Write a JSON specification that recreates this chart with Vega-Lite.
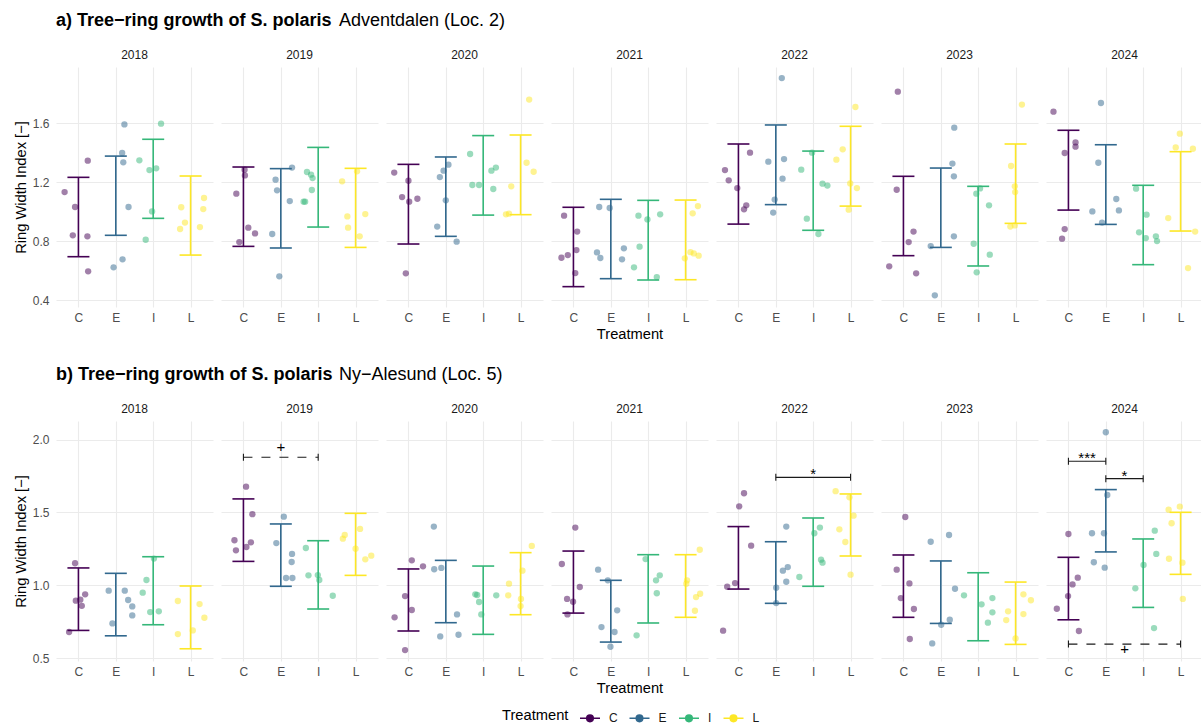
{
"$schema":"https://vega.github.io/schema/vega-lite/v6.json",
"background":"white",
"padding":{"left":13,"top":12,"right":0,"bottom":2},
"config":{
 "font":"Liberation Sans",
 "view":{"stroke":null},
 "axis":{"domain":false,"ticks":false,"grid":true,"gridColor":"#EBEBEB","labelColor":"#4D4D4D","labelFontSize":12,"titleFontSize":14.7,"titleFontWeight":"normal","titleColor":"#000000"},
 "header":{"labelFontSize":12,"labelColor":"#1A1A1A","titleFontSize":14.7,"titleFontWeight":"normal","titleColor":"#000000"},
 "title":{"fontSize":18,"fontWeight":"bold","anchor":"start","color":"#000000"},
 "legend":{"direction":"horizontal","titleOrient":"left","titleFontSize":14.7,"titleFontWeight":"normal","titleColor":"#000000","labelFontSize":12,"labelColor":"#1A1A1A","symbolType":"M-1,0H1M0.33,0A0.33,0.33,0,1,1,-0.33,0A0.33,0.33,0,1,1,0.33,0Z","symbolSize":400,"symbolStrokeWidth":1.5,"columnPadding":8.5,"titlePadding":10,"labelOffset":8}
},
"datasets":{
"a":[
{"year":2018,"kind":"bar","trt":"C","x":1,"lo":0.696,"hi":1.234},
{"year":2018,"kind":"bar","trt":"E","x":2,"lo":0.841,"hi":1.378},
{"year":2018,"kind":"bar","trt":"I","x":3,"lo":0.956,"hi":1.492},
{"year":2018,"kind":"bar","trt":"L","x":4,"lo":0.707,"hi":1.243},
{"year":2019,"kind":"bar","trt":"C","x":1,"lo":0.766,"hi":1.304},
{"year":2019,"kind":"bar","trt":"E","x":2,"lo":0.755,"hi":1.293},
{"year":2019,"kind":"bar","trt":"I","x":3,"lo":0.897,"hi":1.437},
{"year":2019,"kind":"bar","trt":"L","x":4,"lo":0.759,"hi":1.295},
{"year":2020,"kind":"bar","trt":"C","x":1,"lo":0.782,"hi":1.322},
{"year":2020,"kind":"bar","trt":"E","x":2,"lo":0.834,"hi":1.372},
{"year":2020,"kind":"bar","trt":"I","x":3,"lo":0.978,"hi":1.517},
{"year":2020,"kind":"bar","trt":"L","x":4,"lo":0.981,"hi":1.521},
{"year":2021,"kind":"bar","trt":"C","x":1,"lo":0.493,"hi":1.031},
{"year":2021,"kind":"bar","trt":"E","x":2,"lo":0.547,"hi":1.085},
{"year":2021,"kind":"bar","trt":"I","x":3,"lo":0.538,"hi":1.078},
{"year":2021,"kind":"bar","trt":"L","x":4,"lo":0.54,"hi":1.08},
{"year":2022,"kind":"bar","trt":"C","x":1,"lo":0.917,"hi":1.46},
{"year":2022,"kind":"bar","trt":"E","x":2,"lo":1.049,"hi":1.589},
{"year":2022,"kind":"bar","trt":"I","x":3,"lo":0.875,"hi":1.412},
{"year":2022,"kind":"bar","trt":"L","x":4,"lo":1.039,"hi":1.58},
{"year":2023,"kind":"bar","trt":"C","x":1,"lo":0.703,"hi":1.241},
{"year":2023,"kind":"bar","trt":"E","x":2,"lo":0.759,"hi":1.297},
{"year":2023,"kind":"bar","trt":"I","x":3,"lo":0.633,"hi":1.173},
{"year":2023,"kind":"bar","trt":"L","x":4,"lo":0.922,"hi":1.46},
{"year":2024,"kind":"bar","trt":"C","x":1,"lo":1.012,"hi":1.553},
{"year":2024,"kind":"bar","trt":"E","x":2,"lo":0.915,"hi":1.455},
{"year":2024,"kind":"bar","trt":"I","x":3,"lo":0.642,"hi":1.18},
{"year":2024,"kind":"bar","trt":"L","x":4,"lo":0.87,"hi":1.408},
{"year":2018,"kind":"pt","trt":"C","x":0.63,"v":1.134},
{"year":2018,"kind":"pt","trt":"C","x":0.91,"v":1.033},
{"year":2018,"kind":"pt","trt":"C","x":0.85,"v":0.841},
{"year":2018,"kind":"pt","trt":"C","x":1.24,"v":0.834},
{"year":2018,"kind":"pt","trt":"C","x":1.25,"v":1.347},
{"year":2018,"kind":"pt","trt":"C","x":1.26,"v":0.597},
{"year":2018,"kind":"pt","trt":"E","x":2.23,"v":1.593},
{"year":2018,"kind":"pt","trt":"E","x":2.17,"v":1.399},
{"year":2018,"kind":"pt","trt":"E","x":2.2,"v":1.336},
{"year":2018,"kind":"pt","trt":"E","x":2.34,"v":1.033},
{"year":2018,"kind":"pt","trt":"E","x":1.94,"v":0.624},
{"year":2018,"kind":"pt","trt":"E","x":2.18,"v":0.678},
{"year":2018,"kind":"pt","trt":"I","x":2.63,"v":1.349},
{"year":2018,"kind":"pt","trt":"I","x":3.21,"v":1.598},
{"year":2018,"kind":"pt","trt":"I","x":2.9,"v":1.283},
{"year":2018,"kind":"pt","trt":"I","x":3.08,"v":1.295},
{"year":2018,"kind":"pt","trt":"I","x":2.97,"v":1.003},
{"year":2018,"kind":"pt","trt":"I","x":2.8,"v":0.811},
{"year":2018,"kind":"pt","trt":"L","x":3.75,"v":1.031},
{"year":2018,"kind":"pt","trt":"L","x":4.36,"v":1.094},
{"year":2018,"kind":"pt","trt":"L","x":3.85,"v":0.927},
{"year":2018,"kind":"pt","trt":"L","x":4.34,"v":1.019},
{"year":2018,"kind":"pt","trt":"L","x":4.25,"v":0.897},
{"year":2018,"kind":"pt","trt":"L","x":3.72,"v":0.884},
{"year":2019,"kind":"pt","trt":"C","x":0.81,"v":1.123},
{"year":2019,"kind":"pt","trt":"C","x":1.04,"v":1.247},
{"year":2019,"kind":"pt","trt":"C","x":1.03,"v":1.286},
{"year":2019,"kind":"pt","trt":"C","x":1.13,"v":0.893},
{"year":2019,"kind":"pt","trt":"C","x":0.89,"v":0.795},
{"year":2019,"kind":"pt","trt":"C","x":1.31,"v":0.854},
{"year":2019,"kind":"pt","trt":"E","x":2.3,"v":1.3},
{"year":2019,"kind":"pt","trt":"E","x":1.86,"v":1.218},
{"year":2019,"kind":"pt","trt":"E","x":1.9,"v":1.146},
{"year":2019,"kind":"pt","trt":"E","x":2.24,"v":1.073},
{"year":2019,"kind":"pt","trt":"E","x":1.77,"v":0.85},
{"year":2019,"kind":"pt","trt":"E","x":1.96,"v":0.563},
{"year":2019,"kind":"pt","trt":"I","x":2.7,"v":1.27},
{"year":2019,"kind":"pt","trt":"I","x":2.81,"v":1.252},
{"year":2019,"kind":"pt","trt":"I","x":2.85,"v":1.229},
{"year":2019,"kind":"pt","trt":"I","x":2.83,"v":1.148},
{"year":2019,"kind":"pt","trt":"I","x":2.61,"v":1.069},
{"year":2019,"kind":"pt","trt":"I","x":2.65,"v":1.069},
{"year":2019,"kind":"pt","trt":"L","x":3.64,"v":1.207},
{"year":2019,"kind":"pt","trt":"L","x":4.04,"v":1.275},
{"year":2019,"kind":"pt","trt":"L","x":4.26,"v":0.985},
{"year":2019,"kind":"pt","trt":"L","x":3.78,"v":0.969},
{"year":2019,"kind":"pt","trt":"L","x":3.8,"v":0.893},
{"year":2019,"kind":"pt","trt":"L","x":4.11,"v":0.834},
{"year":2020,"kind":"pt","trt":"C","x":0.62,"v":1.266},
{"year":2020,"kind":"pt","trt":"C","x":1.0,"v":1.211},
{"year":2020,"kind":"pt","trt":"C","x":0.83,"v":1.1},
{"year":2020,"kind":"pt","trt":"C","x":1.02,"v":1.069},
{"year":2020,"kind":"pt","trt":"C","x":1.24,"v":1.089},
{"year":2020,"kind":"pt","trt":"C","x":0.93,"v":0.583},
{"year":2020,"kind":"pt","trt":"E","x":1.94,"v":1.279},
{"year":2020,"kind":"pt","trt":"E","x":2.07,"v":1.32},
{"year":2020,"kind":"pt","trt":"E","x":1.84,"v":1.236},
{"year":2020,"kind":"pt","trt":"E","x":2.0,"v":1.078},
{"year":2020,"kind":"pt","trt":"E","x":1.77,"v":0.9},
{"year":2020,"kind":"pt","trt":"E","x":2.29,"v":0.798},
{"year":2020,"kind":"pt","trt":"I","x":2.65,"v":1.392},
{"year":2020,"kind":"pt","trt":"I","x":2.71,"v":1.182},
{"year":2020,"kind":"pt","trt":"I","x":2.89,"v":1.182},
{"year":2020,"kind":"pt","trt":"I","x":3.22,"v":1.279},
{"year":2020,"kind":"pt","trt":"I","x":3.34,"v":1.3},
{"year":2020,"kind":"pt","trt":"I","x":3.27,"v":1.155},
{"year":2020,"kind":"pt","trt":"L","x":4.23,"v":1.761},
{"year":2020,"kind":"pt","trt":"L","x":4.16,"v":1.333},
{"year":2020,"kind":"pt","trt":"L","x":4.35,"v":1.272},
{"year":2020,"kind":"pt","trt":"L","x":3.75,"v":1.173},
{"year":2020,"kind":"pt","trt":"L","x":3.61,"v":0.983},
{"year":2020,"kind":"pt","trt":"L","x":3.69,"v":0.988},
{"year":2021,"kind":"pt","trt":"C","x":0.75,"v":0.974},
{"year":2021,"kind":"pt","trt":"C","x":1.1,"v":0.866},
{"year":2021,"kind":"pt","trt":"C","x":1.08,"v":0.741},
{"year":2021,"kind":"pt","trt":"C","x":0.85,"v":0.707},
{"year":2021,"kind":"pt","trt":"C","x":0.68,"v":0.689},
{"year":2021,"kind":"pt","trt":"C","x":1.05,"v":0.585},
{"year":2021,"kind":"pt","trt":"E","x":1.69,"v":1.033},
{"year":2021,"kind":"pt","trt":"E","x":1.97,"v":1.026},
{"year":2021,"kind":"pt","trt":"E","x":2.35,"v":0.753},
{"year":2021,"kind":"pt","trt":"E","x":1.63,"v":0.725},
{"year":2021,"kind":"pt","trt":"E","x":1.72,"v":0.687},
{"year":2021,"kind":"pt","trt":"E","x":2.3,"v":0.678},
{"year":2021,"kind":"pt","trt":"I","x":2.74,"v":0.974},
{"year":2021,"kind":"pt","trt":"I","x":2.98,"v":0.949},
{"year":2021,"kind":"pt","trt":"I","x":3.32,"v":0.983},
{"year":2021,"kind":"pt","trt":"I","x":2.77,"v":0.764},
{"year":2021,"kind":"pt","trt":"I","x":2.62,"v":0.624},
{"year":2021,"kind":"pt","trt":"I","x":3.23,"v":0.558},
{"year":2021,"kind":"pt","trt":"L","x":4.33,"v":1.039},
{"year":2021,"kind":"pt","trt":"L","x":4.19,"v":0.99},
{"year":2021,"kind":"pt","trt":"L","x":3.98,"v":0.685},
{"year":2021,"kind":"pt","trt":"L","x":4.13,"v":0.727},
{"year":2021,"kind":"pt","trt":"L","x":4.22,"v":0.718},
{"year":2021,"kind":"pt","trt":"L","x":4.35,"v":0.703},
{"year":2022,"kind":"pt","trt":"C","x":1.31,"v":1.401},
{"year":2022,"kind":"pt","trt":"C","x":0.64,"v":1.283},
{"year":2022,"kind":"pt","trt":"C","x":0.74,"v":1.214},
{"year":2022,"kind":"pt","trt":"C","x":0.97,"v":1.161},
{"year":2022,"kind":"pt","trt":"C","x":1.21,"v":1.044},
{"year":2022,"kind":"pt","trt":"C","x":1.15,"v":1.017},
{"year":2022,"kind":"pt","trt":"E","x":2.16,"v":1.907},
{"year":2022,"kind":"pt","trt":"E","x":1.8,"v":1.34},
{"year":2022,"kind":"pt","trt":"E","x":2.22,"v":1.358},
{"year":2022,"kind":"pt","trt":"E","x":2.18,"v":1.225},
{"year":2022,"kind":"pt","trt":"E","x":1.97,"v":1.083},
{"year":2022,"kind":"pt","trt":"E","x":1.93,"v":0.995},
{"year":2022,"kind":"pt","trt":"I","x":2.97,"v":1.401},
{"year":2022,"kind":"pt","trt":"I","x":2.68,"v":1.286},
{"year":2022,"kind":"pt","trt":"I","x":3.25,"v":1.191},
{"year":2022,"kind":"pt","trt":"I","x":3.38,"v":1.178},
{"year":2022,"kind":"pt","trt":"I","x":2.83,"v":0.954},
{"year":2022,"kind":"pt","trt":"I","x":3.14,"v":0.85},
{"year":2022,"kind":"pt","trt":"L","x":4.13,"v":1.711},
{"year":2022,"kind":"pt","trt":"L","x":3.79,"v":1.424},
{"year":2022,"kind":"pt","trt":"L","x":3.62,"v":1.354},
{"year":2022,"kind":"pt","trt":"L","x":3.99,"v":1.193},
{"year":2022,"kind":"pt","trt":"L","x":4.17,"v":1.161},
{"year":2022,"kind":"pt","trt":"L","x":3.95,"v":1.015},
{"year":2023,"kind":"pt","trt":"C","x":0.85,"v":1.815},
{"year":2023,"kind":"pt","trt":"C","x":0.82,"v":1.15},
{"year":2023,"kind":"pt","trt":"C","x":1.27,"v":0.866},
{"year":2023,"kind":"pt","trt":"C","x":1.14,"v":0.795},
{"year":2023,"kind":"pt","trt":"C","x":0.62,"v":0.631},
{"year":2023,"kind":"pt","trt":"C","x":1.34,"v":0.583},
{"year":2023,"kind":"pt","trt":"E","x":2.36,"v":1.571},
{"year":2023,"kind":"pt","trt":"E","x":2.31,"v":1.327},
{"year":2023,"kind":"pt","trt":"E","x":2.35,"v":1.241},
{"year":2023,"kind":"pt","trt":"E","x":2.35,"v":0.834},
{"year":2023,"kind":"pt","trt":"E","x":1.73,"v":0.768},
{"year":2023,"kind":"pt","trt":"E","x":1.84,"v":0.434},
{"year":2023,"kind":"pt","trt":"I","x":2.95,"v":1.123},
{"year":2023,"kind":"pt","trt":"I","x":3.05,"v":1.159},
{"year":2023,"kind":"pt","trt":"I","x":3.29,"v":1.044},
{"year":2023,"kind":"pt","trt":"I","x":2.88,"v":0.784},
{"year":2023,"kind":"pt","trt":"I","x":3.31,"v":0.71},
{"year":2023,"kind":"pt","trt":"I","x":2.96,"v":0.59},
{"year":2023,"kind":"pt","trt":"L","x":4.17,"v":1.727},
{"year":2023,"kind":"pt","trt":"L","x":3.88,"v":1.311},
{"year":2023,"kind":"pt","trt":"L","x":3.98,"v":1.173},
{"year":2023,"kind":"pt","trt":"L","x":3.99,"v":1.134},
{"year":2023,"kind":"pt","trt":"L","x":3.86,"v":0.9},
{"year":2023,"kind":"pt","trt":"L","x":3.98,"v":0.908},
{"year":2024,"kind":"pt","trt":"C","x":0.6,"v":1.679},
{"year":2024,"kind":"pt","trt":"C","x":0.9,"v":1.399},
{"year":2024,"kind":"pt","trt":"C","x":1.19,"v":1.471},
{"year":2024,"kind":"pt","trt":"C","x":1.19,"v":1.442},
{"year":2024,"kind":"pt","trt":"C","x":0.9,"v":0.883},
{"year":2024,"kind":"pt","trt":"C","x":0.83,"v":0.818},
{"year":2024,"kind":"pt","trt":"E","x":1.87,"v":1.738},
{"year":2024,"kind":"pt","trt":"E","x":1.8,"v":1.333},
{"year":2024,"kind":"pt","trt":"E","x":2.28,"v":1.087},
{"year":2024,"kind":"pt","trt":"E","x":2.35,"v":1.01},
{"year":2024,"kind":"pt","trt":"E","x":1.64,"v":1.003},
{"year":2024,"kind":"pt","trt":"E","x":1.9,"v":0.927},
{"year":2024,"kind":"pt","trt":"I","x":2.81,"v":1.157},
{"year":2024,"kind":"pt","trt":"I","x":3.09,"v":0.981},
{"year":2024,"kind":"pt","trt":"I","x":2.89,"v":0.861},
{"year":2024,"kind":"pt","trt":"I","x":3.07,"v":0.822},
{"year":2024,"kind":"pt","trt":"I","x":3.34,"v":0.834},
{"year":2024,"kind":"pt","trt":"I","x":3.37,"v":0.802},
{"year":2024,"kind":"pt","trt":"L","x":3.98,"v":1.53},
{"year":2024,"kind":"pt","trt":"L","x":3.87,"v":1.437},
{"year":2024,"kind":"pt","trt":"L","x":4.33,"v":1.428},
{"year":2024,"kind":"pt","trt":"L","x":3.67,"v":0.958},
{"year":2024,"kind":"pt","trt":"L","x":4.39,"v":0.866},
{"year":2024,"kind":"pt","trt":"L","x":4.2,"v":0.619}
],
"b":[
{"year":2018,"kind":"bar","trt":"C","x":1,"lo":0.69,"hi":1.119},
{"year":2018,"kind":"bar","trt":"E","x":2,"lo":0.653,"hi":1.082},
{"year":2018,"kind":"bar","trt":"I","x":3,"lo":0.729,"hi":1.196},
{"year":2018,"kind":"bar","trt":"L","x":4,"lo":0.564,"hi":0.995},
{"year":2019,"kind":"bar","trt":"C","x":1,"lo":1.164,"hi":1.593},
{"year":2019,"kind":"bar","trt":"E","x":2,"lo":0.993,"hi":1.421},
{"year":2019,"kind":"bar","trt":"I","x":3,"lo":0.837,"hi":1.306},
{"year":2019,"kind":"bar","trt":"L","x":4,"lo":1.068,"hi":1.494},
{"year":2020,"kind":"bar","trt":"C","x":1,"lo":0.686,"hi":1.112},
{"year":2020,"kind":"bar","trt":"E","x":2,"lo":0.743,"hi":1.171},
{"year":2020,"kind":"bar","trt":"I","x":3,"lo":0.663,"hi":1.132},
{"year":2020,"kind":"bar","trt":"L","x":4,"lo":0.798,"hi":1.224},
{"year":2021,"kind":"bar","trt":"C","x":1,"lo":0.809,"hi":1.235},
{"year":2021,"kind":"bar","trt":"E","x":2,"lo":0.61,"hi":1.034},
{"year":2021,"kind":"bar","trt":"I","x":3,"lo":0.741,"hi":1.21},
{"year":2021,"kind":"bar","trt":"L","x":4,"lo":0.78,"hi":1.21},
{"year":2022,"kind":"bar","trt":"C","x":1,"lo":0.974,"hi":1.403},
{"year":2022,"kind":"bar","trt":"E","x":2,"lo":0.876,"hi":1.299},
{"year":2022,"kind":"bar","trt":"I","x":3,"lo":0.993,"hi":1.462},
{"year":2022,"kind":"bar","trt":"L","x":4,"lo":1.201,"hi":1.627},
{"year":2023,"kind":"bar","trt":"C","x":1,"lo":0.78,"hi":1.208},
{"year":2023,"kind":"bar","trt":"E","x":2,"lo":0.738,"hi":1.167},
{"year":2023,"kind":"bar","trt":"I","x":3,"lo":0.619,"hi":1.086},
{"year":2023,"kind":"bar","trt":"L","x":4,"lo":0.594,"hi":1.022},
{"year":2024,"kind":"bar","trt":"C","x":1,"lo":0.763,"hi":1.192},
{"year":2024,"kind":"bar","trt":"E","x":2,"lo":1.229,"hi":1.657},
{"year":2024,"kind":"bar","trt":"I","x":3,"lo":0.848,"hi":1.318},
{"year":2024,"kind":"bar","trt":"L","x":4,"lo":1.075,"hi":1.501},
{"year":2019,"kind":"sig","x1":1,"x2":3,"v":1.879,"dash":true,"lx":2,"ly":1.914,"label":"+"},
{"year":2022,"kind":"sig","x1":2,"x2":4,"v":1.741,"dash":false,"lx":3,"ly":1.732,"label":"*"},
{"year":2024,"kind":"sig","x1":1,"x2":2,"v":1.852,"dash":false,"lx":1.5,"ly":1.838,"label":"***"},
{"year":2024,"kind":"sig","x1":2,"x2":3,"v":1.732,"dash":false,"lx":2.5,"ly":1.717,"label":"*"},
{"year":2024,"kind":"sig","x1":1,"x2":4,"v":0.596,"dash":true,"lx":2.5,"ly":0.53,"label":"+"},
{"year":2018,"kind":"pt","trt":"C","x":0.91,"v":1.151},
{"year":2018,"kind":"pt","trt":"C","x":0.93,"v":0.894},
{"year":2018,"kind":"pt","trt":"C","x":1.05,"v":0.901},
{"year":2018,"kind":"pt","trt":"C","x":1.18,"v":0.938},
{"year":2018,"kind":"pt","trt":"C","x":1.09,"v":0.859},
{"year":2018,"kind":"pt","trt":"C","x":0.75,"v":0.679},
{"year":2018,"kind":"pt","trt":"E","x":1.81,"v":0.963},
{"year":2018,"kind":"pt","trt":"E","x":2.24,"v":0.963},
{"year":2018,"kind":"pt","trt":"E","x":2.33,"v":0.899},
{"year":2018,"kind":"pt","trt":"E","x":2.44,"v":0.855},
{"year":2018,"kind":"pt","trt":"E","x":2.44,"v":0.793},
{"year":2018,"kind":"pt","trt":"E","x":1.91,"v":0.738},
{"year":2018,"kind":"pt","trt":"I","x":2.82,"v":1.036},
{"year":2018,"kind":"pt","trt":"I","x":3.02,"v":1.183},
{"year":2018,"kind":"pt","trt":"I","x":2.72,"v":0.949},
{"year":2018,"kind":"pt","trt":"I","x":2.92,"v":0.816},
{"year":2018,"kind":"pt","trt":"I","x":3.15,"v":0.821},
{"year":2018,"kind":"pt","trt":"L","x":3.66,"v":0.892},
{"year":2018,"kind":"pt","trt":"L","x":4.24,"v":0.871},
{"year":2018,"kind":"pt","trt":"L","x":3.66,"v":0.665},
{"year":2018,"kind":"pt","trt":"L","x":4.06,"v":0.69},
{"year":2018,"kind":"pt","trt":"L","x":4.37,"v":0.777},
{"year":2019,"kind":"pt","trt":"C","x":1.07,"v":1.677},
{"year":2019,"kind":"pt","trt":"C","x":1.24,"v":1.488},
{"year":2019,"kind":"pt","trt":"C","x":0.76,"v":1.309},
{"year":2019,"kind":"pt","trt":"C","x":1.2,"v":1.295},
{"year":2019,"kind":"pt","trt":"C","x":1.08,"v":1.263},
{"year":2019,"kind":"pt","trt":"C","x":0.8,"v":1.24},
{"year":2019,"kind":"pt","trt":"E","x":2.08,"v":1.471},
{"year":2019,"kind":"pt","trt":"E","x":1.88,"v":1.29},
{"year":2019,"kind":"pt","trt":"E","x":2.3,"v":1.215},
{"year":2019,"kind":"pt","trt":"E","x":2.29,"v":1.16},
{"year":2019,"kind":"pt","trt":"E","x":2.14,"v":1.05},
{"year":2019,"kind":"pt","trt":"E","x":2.31,"v":1.05},
{"year":2019,"kind":"pt","trt":"I","x":2.67,"v":1.256},
{"year":2019,"kind":"pt","trt":"I","x":2.74,"v":1.068},
{"year":2019,"kind":"pt","trt":"I","x":2.99,"v":1.07},
{"year":2019,"kind":"pt","trt":"I","x":3.03,"v":1.036},
{"year":2019,"kind":"pt","trt":"I","x":3.39,"v":0.928},
{"year":2019,"kind":"pt","trt":"L","x":3.66,"v":1.32},
{"year":2019,"kind":"pt","trt":"L","x":3.71,"v":1.345},
{"year":2019,"kind":"pt","trt":"L","x":4.12,"v":1.387},
{"year":2019,"kind":"pt","trt":"L","x":4.0,"v":1.251},
{"year":2019,"kind":"pt","trt":"L","x":4.26,"v":1.178},
{"year":2019,"kind":"pt","trt":"L","x":4.42,"v":1.203},
{"year":2020,"kind":"pt","trt":"C","x":1.09,"v":1.171},
{"year":2020,"kind":"pt","trt":"C","x":1.39,"v":1.13},
{"year":2020,"kind":"pt","trt":"C","x":0.91,"v":0.926},
{"year":2020,"kind":"pt","trt":"C","x":1.09,"v":0.83},
{"year":2020,"kind":"pt","trt":"C","x":0.63,"v":0.78},
{"year":2020,"kind":"pt","trt":"C","x":0.91,"v":0.555},
{"year":2020,"kind":"pt","trt":"E","x":1.68,"v":1.403},
{"year":2020,"kind":"pt","trt":"E","x":1.69,"v":1.11},
{"year":2020,"kind":"pt","trt":"E","x":1.88,"v":1.119},
{"year":2020,"kind":"pt","trt":"E","x":2.3,"v":0.8},
{"year":2020,"kind":"pt","trt":"E","x":1.85,"v":0.649},
{"year":2020,"kind":"pt","trt":"E","x":2.34,"v":0.66},
{"year":2020,"kind":"pt","trt":"I","x":2.79,"v":0.938},
{"year":2020,"kind":"pt","trt":"I","x":2.84,"v":0.933},
{"year":2020,"kind":"pt","trt":"I","x":2.89,"v":0.885},
{"year":2020,"kind":"pt","trt":"I","x":3.35,"v":0.931},
{"year":2020,"kind":"pt","trt":"I","x":2.95,"v":0.8},
{"year":2020,"kind":"pt","trt":"L","x":4.3,"v":1.27},
{"year":2020,"kind":"pt","trt":"L","x":4.05,"v":1.1},
{"year":2020,"kind":"pt","trt":"L","x":3.69,"v":1.011},
{"year":2020,"kind":"pt","trt":"L","x":3.67,"v":0.931},
{"year":2020,"kind":"pt","trt":"L","x":4.01,"v":0.906},
{"year":2020,"kind":"pt","trt":"L","x":4.0,"v":0.857},
{"year":2021,"kind":"pt","trt":"C","x":1.05,"v":1.396},
{"year":2021,"kind":"pt","trt":"C","x":0.69,"v":1.146},
{"year":2021,"kind":"pt","trt":"C","x":1.17,"v":0.988},
{"year":2021,"kind":"pt","trt":"C","x":0.83,"v":0.906},
{"year":2021,"kind":"pt","trt":"C","x":0.99,"v":0.887},
{"year":2021,"kind":"pt","trt":"C","x":0.84,"v":0.8},
{"year":2021,"kind":"pt","trt":"E","x":1.66,"v":1.107},
{"year":2021,"kind":"pt","trt":"E","x":1.92,"v":1.034},
{"year":2021,"kind":"pt","trt":"E","x":2.17,"v":0.828},
{"year":2021,"kind":"pt","trt":"E","x":1.75,"v":0.713},
{"year":2021,"kind":"pt","trt":"E","x":2.1,"v":0.679},
{"year":2021,"kind":"pt","trt":"E","x":1.99,"v":0.578},
{"year":2021,"kind":"pt","trt":"I","x":2.93,"v":1.18},
{"year":2021,"kind":"pt","trt":"I","x":3.31,"v":1.068},
{"year":2021,"kind":"pt","trt":"I","x":3.21,"v":1.034},
{"year":2021,"kind":"pt","trt":"I","x":3.23,"v":0.945},
{"year":2021,"kind":"pt","trt":"I","x":2.69,"v":0.656},
{"year":2021,"kind":"pt","trt":"L","x":4.38,"v":1.244},
{"year":2021,"kind":"pt","trt":"L","x":4.04,"v":1.034},
{"year":2021,"kind":"pt","trt":"L","x":4.02,"v":1.011},
{"year":2021,"kind":"pt","trt":"L","x":4.39,"v":0.942},
{"year":2021,"kind":"pt","trt":"L","x":4.28,"v":0.919},
{"year":2021,"kind":"pt","trt":"L","x":4.25,"v":0.825},
{"year":2022,"kind":"pt","trt":"C","x":1.15,"v":1.632},
{"year":2022,"kind":"pt","trt":"C","x":1.02,"v":1.542},
{"year":2022,"kind":"pt","trt":"C","x":1.34,"v":1.272},
{"year":2022,"kind":"pt","trt":"C","x":0.91,"v":1.015},
{"year":2022,"kind":"pt","trt":"C","x":0.7,"v":0.99},
{"year":2022,"kind":"pt","trt":"C","x":0.59,"v":0.688},
{"year":2022,"kind":"pt","trt":"E","x":2.28,"v":1.403},
{"year":2022,"kind":"pt","trt":"E","x":2.32,"v":1.125},
{"year":2022,"kind":"pt","trt":"E","x":2.19,"v":1.1},
{"year":2022,"kind":"pt","trt":"E","x":2.28,"v":1.024},
{"year":2022,"kind":"pt","trt":"E","x":2.01,"v":0.983},
{"year":2022,"kind":"pt","trt":"E","x":2.01,"v":0.878},
{"year":2022,"kind":"pt","trt":"I","x":3.03,"v":1.357},
{"year":2022,"kind":"pt","trt":"I","x":3.18,"v":1.396},
{"year":2022,"kind":"pt","trt":"I","x":3.21,"v":1.176},
{"year":2022,"kind":"pt","trt":"I","x":3.25,"v":1.155},
{"year":2022,"kind":"pt","trt":"I","x":2.63,"v":1.057},
{"year":2022,"kind":"pt","trt":"L","x":3.6,"v":1.646},
{"year":2022,"kind":"pt","trt":"L","x":3.97,"v":1.604},
{"year":2022,"kind":"pt","trt":"L","x":4.08,"v":1.478},
{"year":2022,"kind":"pt","trt":"L","x":3.7,"v":1.384},
{"year":2022,"kind":"pt","trt":"L","x":3.86,"v":1.297},
{"year":2022,"kind":"pt","trt":"L","x":4.0,"v":1.073},
{"year":2023,"kind":"pt","trt":"C","x":1.05,"v":1.469},
{"year":2023,"kind":"pt","trt":"C","x":0.82,"v":1.107},
{"year":2023,"kind":"pt","trt":"C","x":1.16,"v":1.013},
{"year":2023,"kind":"pt","trt":"C","x":0.93,"v":0.912},
{"year":2023,"kind":"pt","trt":"C","x":1.28,"v":0.837},
{"year":2023,"kind":"pt","trt":"C","x":1.17,"v":0.631},
{"year":2023,"kind":"pt","trt":"E","x":2.22,"v":1.345},
{"year":2023,"kind":"pt","trt":"E","x":1.73,"v":1.299},
{"year":2023,"kind":"pt","trt":"E","x":2.38,"v":0.976},
{"year":2023,"kind":"pt","trt":"E","x":2.24,"v":0.763},
{"year":2023,"kind":"pt","trt":"E","x":2.01,"v":0.729},
{"year":2023,"kind":"pt","trt":"E","x":1.77,"v":0.601},
{"year":2023,"kind":"pt","trt":"I","x":2.62,"v":0.931},
{"year":2023,"kind":"pt","trt":"I","x":3.09,"v":0.869},
{"year":2023,"kind":"pt","trt":"I","x":3.38,"v":0.912},
{"year":2023,"kind":"pt","trt":"I","x":3.38,"v":0.814},
{"year":2023,"kind":"pt","trt":"I","x":3.26,"v":0.743},
{"year":2023,"kind":"pt","trt":"L","x":4.21,"v":0.938},
{"year":2023,"kind":"pt","trt":"L","x":4.41,"v":0.897},
{"year":2023,"kind":"pt","trt":"L","x":3.8,"v":0.821},
{"year":2023,"kind":"pt","trt":"L","x":4.21,"v":0.802},
{"year":2023,"kind":"pt","trt":"L","x":3.75,"v":0.761},
{"year":2023,"kind":"pt","trt":"L","x":4.0,"v":0.635},
{"year":2024,"kind":"pt","trt":"C","x":1.0,"v":1.352},
{"year":2024,"kind":"pt","trt":"C","x":1.25,"v":1.052},
{"year":2024,"kind":"pt","trt":"C","x":1.11,"v":1.006},
{"year":2024,"kind":"pt","trt":"C","x":0.99,"v":0.926},
{"year":2024,"kind":"pt","trt":"C","x":0.69,"v":0.839},
{"year":2024,"kind":"pt","trt":"C","x":1.28,"v":0.686},
{"year":2024,"kind":"pt","trt":"E","x":2.0,"v":2.051},
{"year":2024,"kind":"pt","trt":"E","x":2.04,"v":1.62},
{"year":2024,"kind":"pt","trt":"E","x":1.63,"v":1.357},
{"year":2024,"kind":"pt","trt":"E","x":1.95,"v":1.357},
{"year":2024,"kind":"pt","trt":"E","x":1.68,"v":1.158},
{"year":2024,"kind":"pt","trt":"E","x":1.97,"v":1.121},
{"year":2024,"kind":"pt","trt":"I","x":3.31,"v":1.375},
{"year":2024,"kind":"pt","trt":"I","x":3.35,"v":1.215},
{"year":2024,"kind":"pt","trt":"I","x":3.01,"v":1.139},
{"year":2024,"kind":"pt","trt":"I","x":2.79,"v":0.979},
{"year":2024,"kind":"pt","trt":"I","x":3.29,"v":0.706},
{"year":2024,"kind":"pt","trt":"L","x":3.68,"v":1.519},
{"year":2024,"kind":"pt","trt":"L","x":3.98,"v":1.54},
{"year":2024,"kind":"pt","trt":"L","x":3.76,"v":1.426},
{"year":2024,"kind":"pt","trt":"L","x":3.69,"v":1.182},
{"year":2024,"kind":"pt","trt":"L","x":4.05,"v":1.155},
{"year":2024,"kind":"pt","trt":"L","x":4.06,"v":0.906}
]
},
"spacing":24,
"vconcat":[
{
 "title":{"text":"Adventdalen (Loc. 2)","fontWeight":"normal","dx":283,"offset":-18,"frame":"group"},
 "vconcat":[
 {
 "data":{"name":"a"},
 "title":{"text":"a) Tree−ring growth of S. polaris","offset":19,"frame":"group"},
 "facet":{"column":{"field":"year","type":"ordinal","title":"Treatment","header":{"labelOrient":"top","titleOrient":"bottom","labelPadding":5,"titlePadding":-6}}},
 "spacing":8,
 "spec":{
  "width":157,"height":240,
  "layer":[
   {"transform":[{"filter":"datum.kind == 'bar'"}],
    "mark":{"type":"rule","strokeWidth":1.6},
    "encoding":{
     "x":{"field":"x","type":"quantitative","scale":{"domain":[0.4,4.6],"nice":false,"zero":false},"axis":{"values":[1,2,3,4],"labelExpr":"['','C','E','I','L'][datum.value]","title":null,"labelPadding":5,"gridWidth":1.1}},
     "y":{"field":"lo","type":"quantitative","title":"Ring Width Index [−]","scale":{"domain":[0.355,1.982],"nice":false,"zero":false},"axis":{"values":[0.4,0.6,0.8,1.0,1.2,1.4,1.6,1.8],"labelExpr":"indexof([0.4,0.8,1.2,1.6],datum.value)>=0?format(datum.value,'.1f'):''","gridWidth":{"condition":{"test":"indexof([0.4,0.8,1.2,1.6],datum.value)>=0","value":1.1},"value":0.55},"labelPadding":7,"titlePadding":4}},
     "y2":{"field":"hi"},
     "color":{"field":"trt","type":"nominal","scale":{"domain":["C","E","I","L"],"range":["#440154","#31688E","#35B779","#FDE725"]},"legend":{"title":"Treatment","orient":"none","legendX":446,"legendY":640,"encode":{"symbols":{"update":{"stroke":{"scale":"color","field":"value"},"fill":{"scale":"color","field":"value"}}}}}}
    }},
   {"transform":[{"filter":"datum.kind == 'bar'"}],
    "mark":{"type":"tick","orient":"horizontal","size":22,"thickness":1.6,"opacity":1},
    "encoding":{
     "x":{"field":"x","type":"quantitative","scale":{"domain":[0.4,4.6],"nice":false,"zero":false}},
     "y":{"field":"lo","type":"quantitative","title":"Ring Width Index [−]","scale":{"domain":[0.355,1.982],"nice":false,"zero":false}},
     "color":{"field":"trt","type":"nominal","legend":{"title":"Treatment","orient":"none","legendX":446,"legendY":640,"encode":{"symbols":{"update":{"stroke":{"scale":"color","field":"value"},"fill":{"scale":"color","field":"value"}}}}}}
    }},
   {"transform":[{"filter":"datum.kind == 'bar'"}],
    "mark":{"type":"tick","orient":"horizontal","size":22,"thickness":1.6,"opacity":1},
    "encoding":{
     "x":{"field":"x","type":"quantitative","scale":{"domain":[0.4,4.6],"nice":false,"zero":false}},
     "y":{"field":"hi","type":"quantitative","title":"Ring Width Index [−]","scale":{"domain":[0.355,1.982],"nice":false,"zero":false}},
     "color":{"field":"trt","type":"nominal","legend":{"title":"Treatment","orient":"none","legendX":446,"legendY":640,"encode":{"symbols":{"update":{"stroke":{"scale":"color","field":"value"},"fill":{"scale":"color","field":"value"}}}}}}
    }},
   {"transform":[{"filter":"datum.kind == 'pt'"}],
    "mark":{"type":"point","filled":true,"size":40,"opacity":0.5,"strokeWidth":0},
    "encoding":{
     "x":{"field":"x","type":"quantitative","scale":{"domain":[0.4,4.6],"nice":false,"zero":false}},
     "y":{"field":"v","type":"quantitative","title":"Ring Width Index [−]","scale":{"domain":[0.355,1.982],"nice":false,"zero":false}},
     "color":{"field":"trt","type":"nominal","legend":{"title":"Treatment","orient":"none","legendX":446,"legendY":640,"encode":{"symbols":{"update":{"stroke":{"scale":"color","field":"value"},"fill":{"scale":"color","field":"value"}}}}}}
    }}
  ]
 }
 }
 ]
},
{
 "title":{"text":"Ny−Alesund (Loc. 5)","fontWeight":"normal","dx":283,"offset":-18,"frame":"group"},
 "vconcat":[
 {
 "data":{"name":"b"},
 "title":{"text":"b) Tree−ring growth of S. polaris","offset":19,"frame":"group"},
 "facet":{"column":{"field":"year","type":"ordinal","title":"Treatment","header":{"labelOrient":"top","titleOrient":"bottom","labelPadding":5,"titlePadding":-6}}},
 "spacing":8,
 "spec":{
  "width":157,"height":240,
  "layer":[
   {"transform":[{"filter":"datum.kind == 'bar'"}],
    "mark":{"type":"rule","strokeWidth":1.6},
    "encoding":{
     "x":{"field":"x","type":"quantitative","scale":{"domain":[0.4,4.6],"nice":false,"zero":false},"axis":{"values":[1,2,3,4],"labelExpr":"['','C','E','I','L'][datum.value]","title":null,"labelPadding":5,"gridWidth":1.1}},
     "y":{"field":"lo","type":"quantitative","title":"Ring Width Index [−]","scale":{"domain":[0.48,2.128],"nice":false,"zero":false},"axis":{"values":[0.5,0.75,1,1.25,1.5,1.75,2],"labelExpr":"indexof([0.5,1,1.5,2],datum.value)>=0?format(datum.value,'.1f'):''","gridWidth":{"condition":{"test":"indexof([0.5,1,1.5,2],datum.value)>=0","value":1.1},"value":0.55},"labelPadding":7,"titlePadding":4}},
     "y2":{"field":"hi"},
     "color":{"field":"trt","type":"nominal","legend":{"title":"Treatment","orient":"none","legendX":446,"legendY":640,"encode":{"symbols":{"update":{"stroke":{"scale":"color","field":"value"},"fill":{"scale":"color","field":"value"}}}}}}
    }},
   {"transform":[{"filter":"datum.kind == 'bar'"}],
    "mark":{"type":"tick","orient":"horizontal","size":22,"thickness":1.6,"opacity":1},
    "encoding":{
     "x":{"field":"x","type":"quantitative","scale":{"domain":[0.4,4.6],"nice":false,"zero":false}},
     "y":{"field":"lo","type":"quantitative","title":"Ring Width Index [−]","scale":{"domain":[0.48,2.128],"nice":false,"zero":false}},
     "color":{"field":"trt","type":"nominal","legend":{"title":"Treatment","orient":"none","legendX":446,"legendY":640,"encode":{"symbols":{"update":{"stroke":{"scale":"color","field":"value"},"fill":{"scale":"color","field":"value"}}}}}}
    }},
   {"transform":[{"filter":"datum.kind == 'bar'"}],
    "mark":{"type":"tick","orient":"horizontal","size":22,"thickness":1.6,"opacity":1},
    "encoding":{
     "x":{"field":"x","type":"quantitative","scale":{"domain":[0.4,4.6],"nice":false,"zero":false}},
     "y":{"field":"hi","type":"quantitative","title":"Ring Width Index [−]","scale":{"domain":[0.48,2.128],"nice":false,"zero":false}},
     "color":{"field":"trt","type":"nominal","legend":{"title":"Treatment","orient":"none","legendX":446,"legendY":640,"encode":{"symbols":{"update":{"stroke":{"scale":"color","field":"value"},"fill":{"scale":"color","field":"value"}}}}}}
    }},
   {"transform":[{"filter":"datum.kind == 'pt'"}],
    "mark":{"type":"point","filled":true,"size":40,"opacity":0.5,"strokeWidth":0},
    "encoding":{
     "x":{"field":"x","type":"quantitative","scale":{"domain":[0.4,4.6],"nice":false,"zero":false}},
     "y":{"field":"v","type":"quantitative","title":"Ring Width Index [−]","scale":{"domain":[0.48,2.128],"nice":false,"zero":false}},
     "color":{"field":"trt","type":"nominal","legend":{"title":"Treatment","orient":"none","legendX":446,"legendY":640,"encode":{"symbols":{"update":{"stroke":{"scale":"color","field":"value"},"fill":{"scale":"color","field":"value"}}}}}}
    }},
   {"transform":[{"filter":"datum.kind == 'sig'"}],
    "mark":{"type":"rule","strokeWidth":1.1,"color":"#1A1A1A"},
    "encoding":{
     "x":{"field":"x1","type":"quantitative","scale":{"domain":[0.4,4.6],"nice":false,"zero":false}},
     "x2":{"field":"x2"},
     "y":{"field":"v","type":"quantitative","title":"Ring Width Index [−]","scale":{"domain":[0.48,2.128],"nice":false,"zero":false}},
     "strokeDash":{"condition":{"test":"datum.dash","value":[9,9]},"value":[1,0]}
    }},
   {"transform":[{"filter":"datum.kind == 'sig'"}],
    "mark":{"type":"tick","orient":"vertical","size":7,"thickness":1.1,"opacity":1,"color":"#1A1A1A"},
    "encoding":{
     "x":{"field":"x1","type":"quantitative","scale":{"domain":[0.4,4.6],"nice":false,"zero":false}},
     "y":{"field":"v","type":"quantitative","title":"Ring Width Index [−]","scale":{"domain":[0.48,2.128],"nice":false,"zero":false}}
    }},
   {"transform":[{"filter":"datum.kind == 'sig'"}],
    "mark":{"type":"tick","orient":"vertical","size":7,"thickness":1.1,"opacity":1,"color":"#1A1A1A"},
    "encoding":{
     "x":{"field":"x2","type":"quantitative","scale":{"domain":[0.4,4.6],"nice":false,"zero":false}},
     "y":{"field":"v","type":"quantitative","title":"Ring Width Index [−]","scale":{"domain":[0.48,2.128],"nice":false,"zero":false}}
    }},
   {"transform":[{"filter":"datum.kind == 'sig'"}],
    "mark":{"type":"text","fontSize":15,"baseline":"alphabetic","align":"center","fill":"#000000","opacity":1},
    "encoding":{
     "x":{"field":"lx","type":"quantitative","scale":{"domain":[0.4,4.6],"nice":false,"zero":false}},
     "y":{"field":"ly","type":"quantitative","title":"Ring Width Index [−]","scale":{"domain":[0.48,2.128],"nice":false,"zero":false}},
     "text":{"field":"label"}
    }}
  ]
 }
 }
 ]
}
]
}
